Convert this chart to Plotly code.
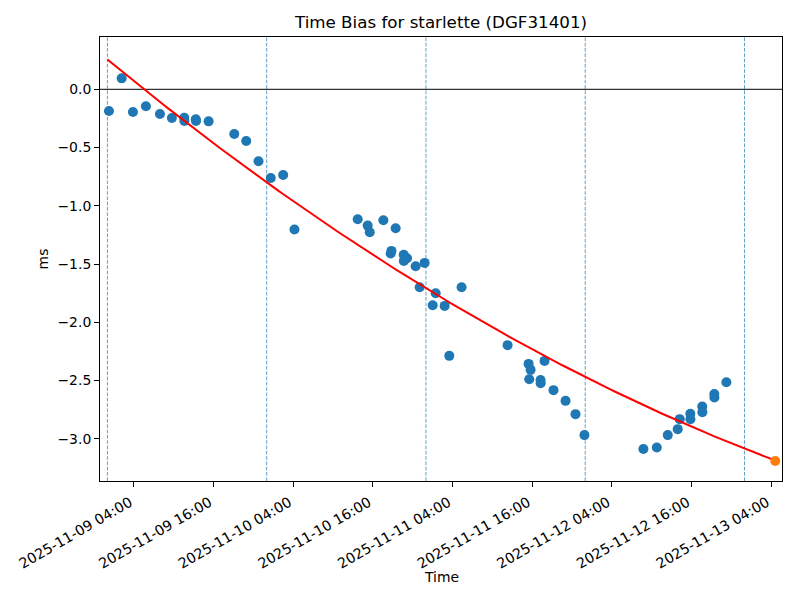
import numpy as np
import pandas as pd
import plotly.graph_objects as go

# Observed time bias (ms)
obs_times = [
    "2025-11-09 00:14", "2025-11-09 02:09", "2025-11-09 03:51", "2025-11-09 05:48",
    "2025-11-09 07:55", "2025-11-09 09:43", "2025-11-09 11:35", "2025-11-09 11:36",
    "2025-11-09 13:19", "2025-11-09 13:21", "2025-11-09 15:15", "2025-11-09 19:07",
    "2025-11-09 20:55", "2025-11-09 22:46", "2025-11-10 00:37", "2025-11-10 02:29",
    "2025-11-10 04:11", "2025-11-10 13:43", "2025-11-10 15:13", "2025-11-10 15:32",
    "2025-11-10 17:35", "2025-11-10 18:41", "2025-11-10 18:48", "2025-11-10 19:26",
    "2025-11-10 20:39", "2025-11-10 20:40", "2025-11-10 21:09", "2025-11-10 22:27",
    "2025-11-10 23:03", "2025-11-10 23:48", "2025-11-11 01:01", "2025-11-11 01:28",
    "2025-11-11 02:49", "2025-11-11 03:31", "2025-11-11 05:22", "2025-11-11 12:18",
    "2025-11-11 15:28", "2025-11-11 15:34", "2025-11-11 15:46", "2025-11-11 17:16",
    "2025-11-11 17:17", "2025-11-11 17:52", "2025-11-11 19:13", "2025-11-11 21:02",
    "2025-11-11 22:32", "2025-11-11 23:53", "2025-11-12 08:46", "2025-11-12 10:47",
    "2025-11-12 12:26", "2025-11-12 13:56", "2025-11-12 14:14", "2025-11-12 15:50",
    "2025-11-12 15:51", "2025-11-12 17:38", "2025-11-12 17:39", "2025-11-12 19:27",
    "2025-11-12 19:28", "2025-11-12 21:16",
]
obs_bias = [
    -0.186, 0.094, -0.195, -0.146,
    -0.212, -0.246, -0.244, -0.272,
    -0.257, -0.272, -0.275, -0.383,
    -0.444, -0.618, -0.761, -0.735,
    -1.203, -1.115, -1.170, -1.227,
    -1.124, -1.410, -1.387, -1.192,
    -1.421, -1.473, -1.450, -1.518,
    -1.699, -1.490, -1.853, -1.750,
    -1.859, -2.288, -1.699, -2.196,
    -2.357, -2.488, -2.408, -2.496,
    -2.522, -2.331, -2.582, -2.674,
    -2.788, -2.968, -3.088, -3.075,
    -2.968, -2.917, -2.831, -2.785,
    -2.831, -2.723, -2.771, -2.616,
    -2.646, -2.514,
]

# Prediction point
pred_time = "2025-11-13 04:38"
pred_bias = -3.191

# Fit span start and day boundaries
fit_start = "2025-11-09 00:00"
day_lines = ["2025-11-09 00:00", "2025-11-10 00:00", "2025-11-11 00:00",
             "2025-11-12 00:00", "2025-11-13 00:00"]

tick_vals = ["2025-11-09 04:00", "2025-11-09 16:00", "2025-11-10 04:00",
             "2025-11-10 16:00", "2025-11-11 04:00", "2025-11-11 16:00",
             "2025-11-12 04:00", "2025-11-12 16:00", "2025-11-13 04:00"]
y_ticks = [0.0, -0.5, -1.0, -1.5, -2.0, -2.5, -3.0]

x_range = ["2025-11-08 22:53", "2025-11-13 05:39"]
y_range = [-3.362, 0.449]

# Quadratic fit of the observations
t_obs = pd.to_datetime(obs_times)
t0 = pd.Timestamp(fit_start)
h_obs = (t_obs - t0) / pd.Timedelta(hours=1)
coef = np.polyfit(np.asarray(h_obs, dtype=float), np.asarray(obs_bias), 2)
t_fit = pd.date_range(t0, pd.Timestamp(pred_time), periods=200)
h_fit = (t_fit - t0) / pd.Timedelta(hours=1)
y_fit = np.polyval(coef, np.asarray(h_fit, dtype=float))

FONT = "DejaVu Sans"
fig = go.Figure()
fig.add_trace(go.Scatter(x=obs_times, y=obs_bias, mode="markers",
                         marker=dict(color="#1f77b4", size=10), showlegend=False))
fig.add_trace(go.Scatter(x=t_fit, y=y_fit, mode="lines",
                         line=dict(color="red", width=2), showlegend=False))
fig.add_trace(go.Scatter(x=[pred_time], y=[pred_bias], mode="markers",
                         marker=dict(color="#ff7f0e", size=10), showlegend=False))

shapes = [dict(type="line", xref="paper", yref="y", x0=0, x1=1, y0=0, y1=0,
               line=dict(color="black", width=1), layer="below")]
for d in day_lines:
    shapes.append(dict(type="line", xref="x", yref="paper", x0=d, x1=d, y0=0, y1=1,
                       line=dict(color="rgba(31,119,180,0.7)", width=1, dash="3.7px,1.6px"),
                       layer="below"))

fig.update_layout(
    width=800, height=600,
    margin=dict(l=100, r=18, t=37, b=119),
    paper_bgcolor="white", plot_bgcolor="white",
    font=dict(family=FONT, size=14, color="black"),
    title=dict(text="Time Bias for starlette (DGF31401)", x=441 / 800,
               xanchor="center", y=1 - 22 / 600, yanchor="middle",
               font=dict(size=16.7, family=FONT)),
    shapes=shapes,
    annotations=[dict(text="Time", xref="paper", yref="paper", x=0.5, y=(481 - 577) / 444,
                      xanchor="center", yanchor="middle", showarrow=False,
                      font=dict(size=13.9, family=FONT))],
    xaxis=dict(range=x_range, tickvals=tick_vals,
               ticktext=[pd.Timestamp(v).strftime("%Y-%m-%d %H:%M") for v in tick_vals],
               tickangle=-30, showgrid=False, zeroline=False,
               showline=True, mirror=True, linecolor="black", linewidth=1,
               ticks="outside", ticklen=5, tickcolor="black",
               tickfont=dict(size=14.2), automargin=False,
               ticklabelshift=-4, ticklabelstandoff=2),
    yaxis=dict(range=y_range, tickvals=y_ticks, tickformat=".1f",
               showgrid=False, zeroline=False,
               showline=True, mirror=True, linecolor="black", linewidth=1,
               ticks="outside", ticklen=5, tickcolor="black",
               tickfont=dict(size=13.9), automargin=False,
               title=dict(text="ms", font=dict(size=13.9), standoff=5)),
)
fig.write_html("out.html", config={"displayModeBar": False},
               post_script="document.body.style.margin='0';")
